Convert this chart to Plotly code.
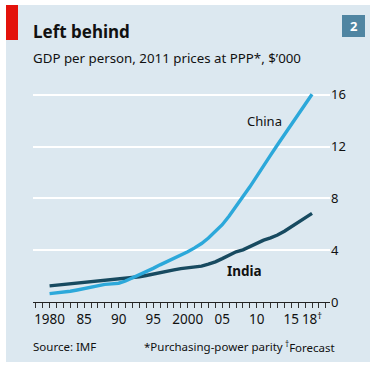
import plotly.graph_objects as go

years = list(range(1980, 2019))
china = [0.65, 0.70, 0.76, 0.83, 0.93, 1.05, 1.13, 1.24, 1.36, 1.40, 1.45, 1.62, 1.85,
         2.10, 2.35, 2.60, 2.87, 3.12, 3.35, 3.60, 3.88, 4.18, 4.52, 4.94, 5.42, 5.97,
         6.65, 7.45, 8.15, 8.90, 9.75, 10.55, 11.35, 12.15, 12.95, 13.75, 14.55, 15.30, 16.05]
india = [1.25, 1.30, 1.34, 1.40, 1.45, 1.50, 1.55, 1.60, 1.68, 1.75, 1.80, 1.80, 1.87,
         1.95, 2.05, 2.17, 2.30, 2.38, 2.48, 2.58, 2.64, 2.70, 2.77, 2.92, 3.10, 3.35,
         3.63, 3.88, 4.03, 4.28, 4.58, 4.78, 4.95, 5.17, 5.47, 5.80, 6.15, 6.50, 6.85]
x_tick_vals = [1980, 1985, 1990, 1995, 2000, 2005, 2010, 2015, 2018]
x_tick_text = ["1980", "85", "90", "95", "2000", "05", "10", "15", "18<sup>†</sup>"]
y_tick_vals = [0, 4, 8, 12, 16]

W, H = 380, 368
L, R, T, B = 33, 330, 90, 302
FONT = "Noto Sans"

def px(x):
    return (x - L) / (R - L)

def py(y):
    return (B - y) / (B - T)

fig = go.Figure()
fig.add_trace(go.Scatter(x=years, y=india, mode="lines", line=dict(color="#174a60", width=3.4),
                         hoverinfo="skip", showlegend=False))
fig.add_trace(go.Scatter(x=years, y=china, mode="lines", line=dict(color="#2ca8da", width=3.4),
                         hoverinfo="skip", showlegend=False))

shapes = [
    dict(type="rect", xref="paper", yref="paper", x0=px(6), x1=px(370), y0=py(362), y1=py(5),
         fillcolor="#dce8f0", line=dict(width=0), layer="below"),
    dict(type="rect", xref="paper", yref="paper", x0=px(6), x1=px(18), y0=py(40), y1=py(5),
         fillcolor="#e3120b", line=dict(width=0), layer="below"),
    dict(type="rect", xref="paper", yref="paper", x0=px(342), x1=px(365), y0=py(37), y1=py(15),
         fillcolor="#4f85a2", line=dict(width=0), layer="below"),
]

def ann(text, x, y, size, bold=False, color="#111", xanchor="left"):
    return dict(text=f"<b>{text}</b>" if bold else text, x=px(x), y=py(y), xref="paper", yref="paper",
                showarrow=False, xanchor=xanchor, yanchor="middle",
                font=dict(family=FONT, size=size, color=color))

annotations = [
    ann("Left behind", 31, 32, 17, bold=True),
    ann("GDP per person, 2011 prices at PPP*, $’000", 31, 58, 13.3),
    ann("2", 353.5, 26, 13, bold=True, color="white", xanchor="center"),
    ann("China", 264, 121, 13, xanchor="center"),
    ann("India", 244.5, 271, 13.5, bold=True, xanchor="center"),
    ann("Source: IMF", 31, 346, 11.5),
    ann("*Purchasing-power parity", 142, 346, 11.5),
    ann("<sup>†</sup>Forecast", 283, 346, 11.5),
]

fig.update_layout(
    width=W, height=H,
    margin=dict(l=L, r=W - R, t=T, b=H - B, pad=0),
    paper_bgcolor="white", plot_bgcolor="rgba(0,0,0,0)",
    shapes=shapes, annotations=annotations,
    font=dict(family=FONT, size=13, color="#111"),
    xaxis=dict(range=[1977.6, 2020.6], tickmode="array", tickvals=x_tick_vals, ticktext=x_tick_text,
               ticks="outside", ticklen=5, tickwidth=1, tickcolor="#333", showgrid=False,
               minor=dict(ticks="outside", tick0=1980, dtick=1, ticklen=5, tickwidth=1,
                          tickcolor="#333", showgrid=False),
               showline=True, linecolor="#222", linewidth=1.2, zeroline=False,
               tickfont=dict(family=FONT, size=13.5, color="#111"), fixedrange=True),
    yaxis=dict(range=[0, 16.38], side="right", tickvals=y_tick_vals, ticks="",
               showgrid=True, gridcolor="white", gridwidth=1.6, zeroline=False, showline=False,
               tickfont=dict(family=FONT, size=13, color="#111"), fixedrange=True),
)

fig.write_html("out.html", config={"displayModeBar": False},
               post_script="document.body.style.margin='0';")
